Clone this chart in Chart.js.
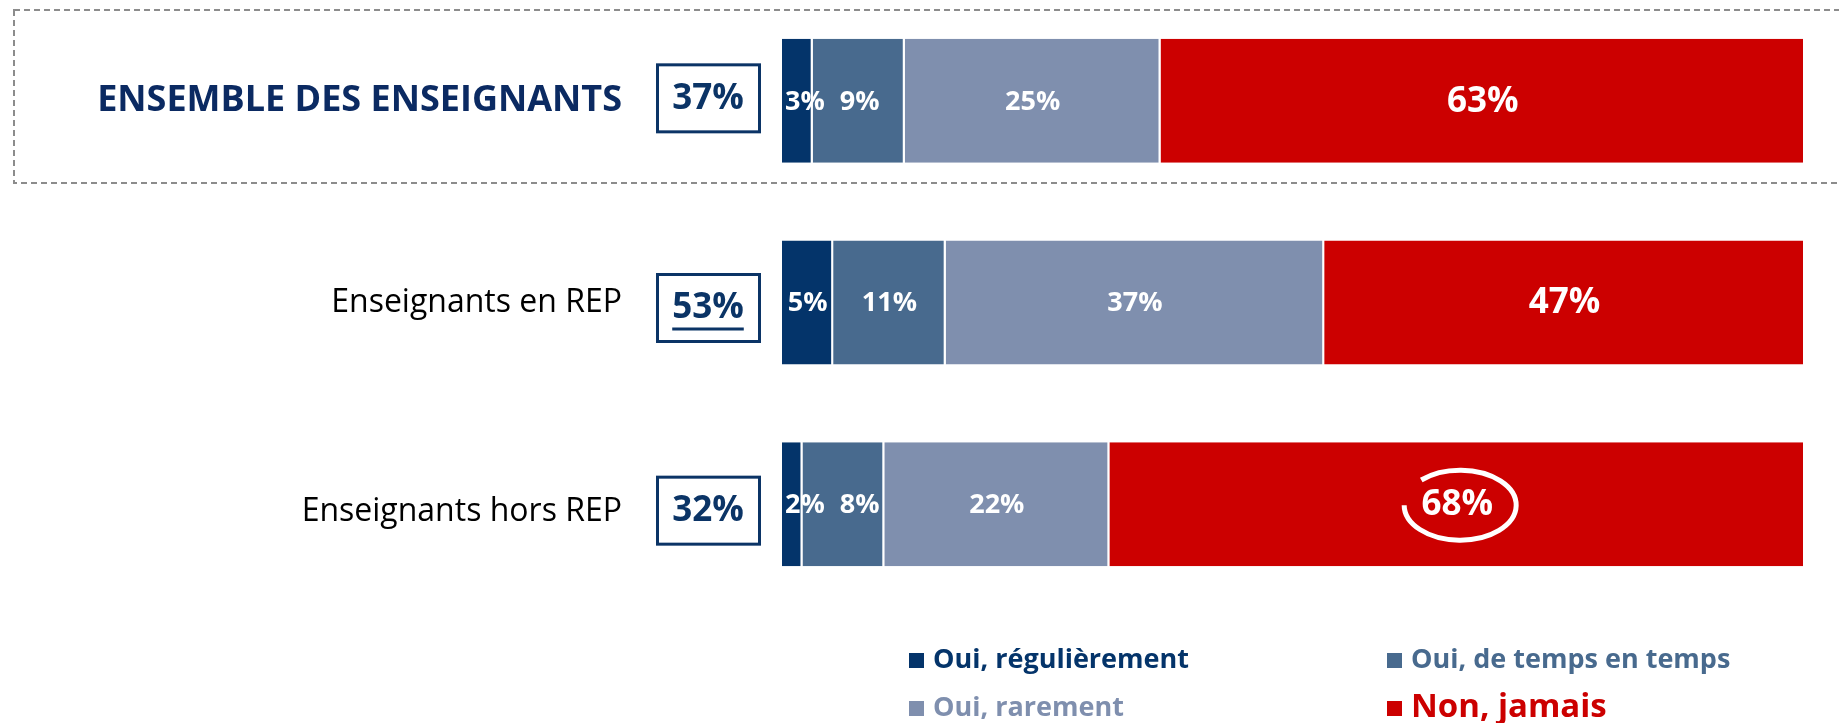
<!DOCTYPE html>
<html>
<head>
<meta charset="utf-8">
<script src="https://cdn.jsdelivr.net/npm/chart.js@4"></script>
<style>
  body { margin: 0; background: #fff; }
  #wrap { width: 1839px; height: 723px; }
</style>
</head>
<body>
<div id="wrap"><canvas id="myChart" width="1839" height="723"></canvas></div>
<script>
// data
const categories = ["ENSEMBLE DES ENSEIGNANTS", "Enseignants en REP", "Enseignants hors REP"];
const seriesNames = ["Oui, régulièrement", "Oui, de temps en temps", "Oui, rarement", "Non, jamais"];
const ouiRegulierement = [3, 5, 2];
const ouiTempsEnTemps = [9, 11, 8];
const ouiRarement = [25, 37, 22];
const nonJamais = [63, 47, 68];

const colors = ["#04346A", "#486A8E", "#7F8FAE", "#CC0000"];
const FONT = "'Open Sans', sans-serif";

// total "oui" per row (shown in the boxes)
const totalOui = categories.map((c, i) => ouiRegulierement[i] + ouiTempsEnTemps[i] + ouiRarement[i]);

const decoPlugin = {
  id: "deco",
  beforeDraw(chart) {
    const ctx = chart.ctx;
    // dashed frame around the first row
    ctx.save();
    ctx.strokeStyle = "#8c8c8c";
    ctx.lineWidth = 2;
    ctx.setLineDash([6, 4]);
    ctx.strokeRect(14, 10, 1850, 173);
    ctx.restore();
  },
  afterDatasetsDraw(chart) {
    const ctx = chart.ctx;
    const metas = chart.data.datasets.map((d, i) => chart.getDatasetMeta(i));
    const x0 = chart.scales.x.getPixelForValue(0);

    ctx.save();
    ctx.textBaseline = "middle";

    // segment labels (pushed right when they would run into the previous one)
    const lastRight = categories.map(() => x0 + 1);
    metas.forEach((meta, di) => {
      meta.data.forEach((bar, j) => {
        const v = chart.data.datasets[di].data[j];
        const txt = v + "%";
        const big = di === 3;
        ctx.font = "bold " + (big ? 35 : 27) + "px " + FONT;
        const w = ctx.measureText(txt).width;
        let cx = (bar.x + bar.base) / 2;
        const gap = di === 0 ? 2 : 15;
        if (cx - w / 2 < lastRight[j] + gap) cx = lastRight[j] + gap + w / 2;
        lastRight[j] = cx + w / 2;
        ctx.fillStyle = "#fff";
        ctx.textAlign = "center";
        ctx.fillText(txt, cx, bar.y + 1);

        // circle around 68%
        if (big && j === 2) {
          ctx.beginPath();
          ctx.strokeStyle = "#fff";
          ctx.lineWidth = 5;
          ctx.ellipse(cx + 3, bar.y + 1, 56, 35, 0, (226 * Math.PI) / 180, Math.PI * 3);
          ctx.stroke();
        }
      });
    });

    // category labels and boxes
    metas[0].data.forEach((bar, j) => {
      const y = bar.y;
      ctx.textAlign = "right";
      if (j === 0) {
        ctx.font = "bold 36px " + FONT;
        ctx.fillStyle = "#0B2A62";
      } else {
        ctx.font = "32px " + FONT;
        ctx.fillStyle = "#000";
      }
      ctx.fillText(categories[j], 622, y + (j === 2 ? 8 : 0));

      // box
      const by = y + [-3, 5, 6][j];
      ctx.strokeStyle = "#0B3466";
      ctx.lineWidth = 3;
      ctx.strokeRect(657.5, by - 33, 102, 67);
      ctx.font = "bold 35px " + FONT;
      ctx.fillStyle = "#0B3466";
      ctx.textAlign = "center";
      const t = totalOui[j] + "%";
      ctx.fillText(t, 708, by + 1);
      if (j === 1) {
        const tw = ctx.measureText(t).width;
        ctx.fillRect(708 - tw / 2, by + 20, tw, 3);
      }
    });

    // legend (2 x 2)
    const legendPos = [
      { x: 909, y: 660, size: 27 },
      { x: 1387, y: 660, size: 27 },
      { x: 909, y: 708, size: 27 },
      { x: 1387, y: 708, size: 33 },
    ];
    ctx.textAlign = "left";
    seriesNames.forEach((name, i) => {
      const p = legendPos[i];
      ctx.fillStyle = colors[i];
      ctx.fillRect(p.x, p.y - 7, 15, 15);
      ctx.font = "bold " + p.size + "px " + FONT;
      ctx.fillText(name, p.x + 24, p.y);
    });
    ctx.restore();
  },
};

const allData = [ouiRegulierement, ouiTempsEnTemps, ouiRarement, nonJamais];

const ctx = document.getElementById("myChart").getContext("2d");
const myChart = new Chart(ctx, {
  type: "bar",
  data: {
    labels: categories,
    datasets: allData.map((d, i) => ({
      label: seriesNames[i],
      data: d,
      backgroundColor: colors[i],
      borderColor: "#fff",
      borderWidth: { top: 0, bottom: 0, left: 0, right: 2 },
      borderSkipped: "start",
      barPercentage: 0.615,
      categoryPercentage: 1,
    })),
  },
  options: {
    indexAxis: "y",
    responsive: false,
    animation: false,
    layout: { padding: { left: 782, right: 34, top: 0, bottom: 118 } },
    scales: {
      x: { stacked: true, min: 0, max: 100, display: false },
      y: { stacked: true, display: false },
    },
    plugins: {
      legend: { display: false },
      tooltip: { enabled: false },
    },
  },
  plugins: [decoPlugin],
});
</script>
</body>
</html>
